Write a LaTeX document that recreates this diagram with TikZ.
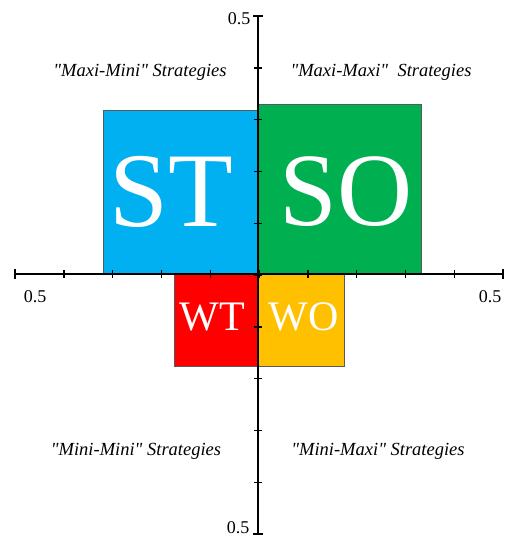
\documentclass[tikz,border=0pt]{standalone}
\usepackage{fontspec}
\setmainfont{Liberation Serif}
\newfontfamily\stratfont{Liberation Serif}
\begin{document}
\begin{tikzpicture}[x=1pt,y=-1pt,
    quad/.style={draw=black!65, line width=0.7pt, inner sep=0pt, text=white},
    axis/.style={line width=2.4pt, black},
    tick/.style={line width=1.4pt, black},
    strat/.style={font=\stratfont\fontsize{18.5}{22}\selectfont\itshape},
    num/.style={font=\fontsize{18}{21}\selectfont}]
    \useasboundingbox (0,0) rectangle (507,538);
    % quadrants
        \node[quad, fill={rgb,255:red,0;green,176;blue,240}, minimum width=155pt, minimum height=164pt] (st) at (180.5,192) {};
        \node[quad, fill={rgb,255:red,0;green,176;blue,80}, minimum width=163pt, minimum height=170pt] (so) at (339.5,189) {};
        \node[quad, fill={rgb,255:red,255;green,0;blue,0}, minimum width=84pt, minimum height=92pt] (wt) at (216,320) {};
        \node[quad, fill={rgb,255:red,255;green,192;blue,0}, minimum width=86pt, minimum height=92pt] (wo) at (301,320) {};
        \node[text=white, font=\fontsize{106}{110}\selectfont] (sttext) at (171,192) {ST};
        \node[text=white, font=\fontsize{104}{110}\selectfont] (sotext) at (346,192) {SO};
        \node[text=white, font=\fontsize{42}{46}\selectfont] (wttext) at (212,317) {WT};
        \node[text=white, font=\fontsize{42}{46}\selectfont] (wotext) at (303.5,317) {WO};
    % axes
        \coordinate (left) at (15,274);
        \coordinate (right) at (503,274);
        \coordinate (top) at (258,16);
        \coordinate (bottom) at (258,534);
        \draw[axis] (left) -- (right);
        \draw[axis] (top) -- (bottom);
        \foreach \i in {1,...,9}{
            \draw[tick] (15+48.8*\i,270) -- (15+48.8*\i,278);
            \draw[tick] (254,16+51.8*\i) -- (262,16+51.8*\i);
        }
        \draw[axis] ([yshift=-5pt]left) -- ([yshift=5pt]left);
        \draw[axis] ([yshift=-5pt]right) -- ([yshift=5pt]right);
        \draw[axis] ([xshift=-5pt]top) -- ([xshift=5pt]top);
        \draw[axis] ([xshift=-5pt]bottom) -- ([xshift=5pt]bottom);
    % labels
        \node[num, anchor=east] (ntop) at (254,19) {0.5};
        \node[num, anchor=east] (nbottom) at (253,528) {0.5};
        \node[num] (nleft) at (35,297) {0.5};
        \node[num] (nright) at (490,297) {0.5};
        \node[strat] (maximini) at (140,72) {"Maxi-Mini" Strategies};
        \node[strat] (maximaxi) at (381,72) {"Maxi-Maxi"\ \ Strategies};
        \node[strat] (minimini) at (136,451) {"Mini-Mini" Strategies};
        \node[strat] (minimaxi) at (378,451) {"Mini-Maxi" Strategies};
\end{tikzpicture}
\end{document}
